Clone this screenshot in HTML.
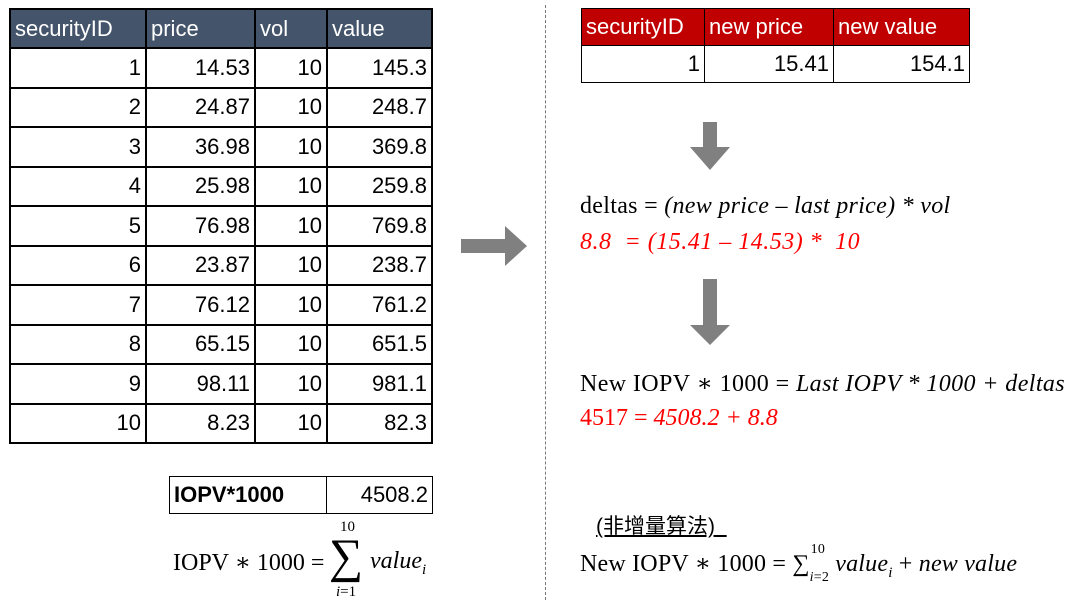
<!DOCTYPE html>
<html><head><meta charset="utf-8"><style>
body{margin:0;width:1072px;height:606px;background:#fff;position:relative;overflow:hidden;font-family:"Liberation Sans","Noto Sans CJK SC",sans-serif}
.a{position:absolute;white-space:nowrap}
table{position:absolute;border-collapse:collapse;font-size:22px}
td{padding:0 4px;text-align:right;border:1px solid #000}
.lt td{border:2px solid #000;height:37.5px}
.lt th{background:#44546a;color:#fff;font-weight:normal;text-align:left;padding:0 4px;height:37px;border:2px solid #000}
.rt th{background:#c00000;color:#fff;font-weight:normal;text-align:left;padding:0 4px;height:36px;border:1px solid #000}
.rt td{height:36px}
.s{font-family:"Liberation Serif","DejaVu Serif",serif;font-size:24px}
i{font-style:italic}
.r{color:#f00}
</style></head><body>
<table class="lt" style="left:9px;top:8px;width:424px">
<tr><th style="width:126px">securityID</th><th style="width:99px">price</th><th style="width:62px">vol</th><th>value</th></tr>
<tr><td>1</td><td>14.53</td><td>10</td><td>145.3</td></tr>
<tr><td>2</td><td>24.87</td><td>10</td><td>248.7</td></tr>
<tr><td>3</td><td>36.98</td><td>10</td><td>369.8</td></tr>
<tr><td>4</td><td>25.98</td><td>10</td><td>259.8</td></tr>
<tr><td>5</td><td>76.98</td><td>10</td><td>769.8</td></tr>
<tr><td>6</td><td>23.87</td><td>10</td><td>238.7</td></tr>
<tr><td>7</td><td>76.12</td><td>10</td><td>761.2</td></tr>
<tr><td>8</td><td>65.15</td><td>10</td><td>651.5</td></tr>
<tr><td>9</td><td>98.11</td><td>10</td><td>981.1</td></tr>
<tr><td>10</td><td>8.23</td><td>10</td><td>82.3</td></tr>
</table>
<table class="rt" style="left:581px;top:8px;width:389px">
<tr><th style="width:114px">securityID</th><th style="width:120px">new price</th><th>new value</th></tr>
<tr><td>1</td><td>15.41</td><td>154.1</td></tr>
</table>
<table style="left:169px;top:476px;width:264px">
<tr><td style="text-align:left;width:148px;height:36px;font-weight:bold">IOPV*1000</td><td>4508.2</td></tr>
</table>
<div class="a" style="left:545px;top:5px;height:595px;border-left:1px dashed #777"></div>
<svg class="a" style="left:0;top:0" width="1072" height="606">
<polygon points="461,239 505,239 505,226 527,246 505,266 505,253 461,253" fill="#808080"/>
<polygon points="703,122 717,122 717,147 730,147 710,170 690,147 703,147" fill="#808080"/>
<polygon points="703,279 717,279 717,325 730,325 710,345 690,325 703,325" fill="#808080"/>
</svg>
<div class="a s" style="left:580px;top:193px;letter-spacing:0.3px">deltas = <i>(new price – last price) * vol</i></div>
<div class="a s r" style="left:580px;top:229px;letter-spacing:0.5px"><i>8.8 &nbsp;= (15.41 – 14.53) * &nbsp;10</i></div>
<div class="a s" style="left:580px;top:369px;letter-spacing:0.4px">New IOPV ∗ 1000 = <i>Last IOPV * 1000 + deltas</i></div>
<div class="a s r" style="left:580px;top:405px">4517 = <i>4508.2 + 8.8</i></div>
<div class="a" style="left:596px;top:510px;font-size:21px;text-decoration:underline">(非增量算法)&nbsp;&nbsp;</div>
<div class="a s" style="left:580px;top:549px;letter-spacing:0.2px">New IOPV ∗ 1000 = ∑<span style="position:relative"><sup style="font-size:14px;position:absolute;top:-9px;left:1px">10</sup><sub style="font-size:14px;position:relative;top:4px"><i>i</i>=2</sub></span> <i>value<sub style="font-size:15px">i</sub></i> + <i>new value</i></div>
<div class="a s" style="left:173px;top:548px">IOPV ∗ 1000 =</div>
<div class="a s" style="left:329px;top:533px;font-size:48px;line-height:48px">∑</div>
<div class="a s" style="left:340px;top:519px;font-size:15px">10</div>
<div class="a s" style="left:336px;top:584px;font-size:15px"><i>i</i>=1</div>
<div class="a s" style="left:370px;top:548px"><i>value<sub style="font-size:15px">i</sub></i></div>
</body></html>
